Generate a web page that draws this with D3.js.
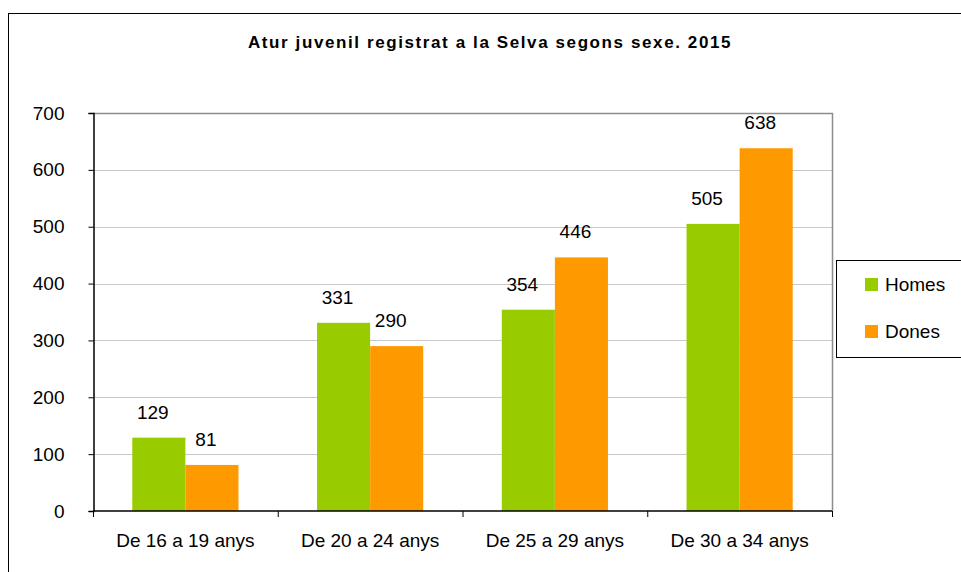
<!DOCTYPE html>
<html>
<head>
<meta charset="utf-8">
<script src="https://d3js.org/d3.v7.min.js"></script>
<style>
  body { margin: 0; background: #fff; }
  text { font-family: "Liberation Sans", Arial, sans-serif; fill: #000; }
</style>
</head>
<body>
<div id="chart"></div>
<script>
// data
var categories = ["De 16 a 19 anys", "De 20 a 24 anys", "De 25 a 29 anys", "De 30 a 34 anys"];
var homes = [129, 331, 354, 505];
var dones = [81, 290, 446, 638];
var seriesNames = ["Homes", "Dones"];
var yTicks = [0, 100, 200, 300, 400, 500, 600, 700];

var width = 961, height = 572;
var margin = {top: 113, left: 93, right: 129, bottom: 61};
var colors = ["#99cc00", "#ff9900"];

var svg = d3.select("#chart").append("svg")
    .attr("width", width)
    .attr("height", height);

// outer frame
svg.append("rect")
    .attr("x", 8.5).attr("y", 13.5)
    .attr("width", 970).attr("height", 580)
    .attr("fill", "none").attr("stroke", "#000").attr("stroke-width", 1);

var x0 = d3.scaleBand()
    .domain(categories)
    .range([margin.left, width - margin.right])
    .paddingInner(0).paddingOuter(0);

var x1 = d3.scaleBand()
    .domain(seriesNames)
    .range([0, x0.bandwidth()])
    .paddingInner(0).paddingOuter(0.74);

var y = d3.scaleLinear()
    .domain([0, 700])
    .range([height - margin.bottom, margin.top]);

// gridlines
svg.append("g")
    .selectAll("line")
    .data(yTicks.slice(1))
    .join("line")
    .attr("x1", margin.left).attr("x2", width - margin.right)
    .attr("y1", d => Math.round(y(d)) + 0.5).attr("y2", d => Math.round(y(d)) + 0.5)
    .attr("stroke", "#c8c8c8");

// plot border top/right
svg.append("path")
    .attr("d", "M" + margin.left + "," + (margin.top + 0.5) + "H" + (width - margin.right + 0.5) + "V" + (height - margin.bottom))
    .attr("fill", "none").attr("stroke", "#8c8c8c").attr("stroke-width", 1.5);

// bars
var groups = svg.append("g")
    .selectAll("g")
    .data(categories)
    .join("g")
    .attr("transform", d => "translate(" + x0(d) + ",0)");

groups.selectAll("rect")
    .data((d, i) => [{s: "Homes", v: homes[i], c: 0}, {s: "Dones", v: dones[i], c: 1}])
    .join("rect")
    .attr("x", d => x1(d.s))
    .attr("y", d => y(d.v))
    .attr("width", x1.bandwidth())
    .attr("height", d => y(0) - y(d.v))
    .attr("fill", d => colors[d.c]);

groups.selectAll("text.val")
    .data((d, i) => [{s: "Homes", v: homes[i]}, {s: "Dones", v: dones[i]}])
    .join("text")
    .attr("class", "val")
    .attr("x", d => x1(d.s) + x1.bandwidth() / 2 - 6)
    .attr("y", d => y(d.v) - 19)
    .attr("text-anchor", "middle")
    .style("font-size", "19px")
    .text(d => d.v);

// y axis
var yAxis = svg.append("g")
    .attr("transform", "translate(" + (margin.left + 0.5) + ",0)")
    .call(d3.axisLeft(y).tickValues(yTicks).tickSize(5).tickPadding(24));
yAxis.select(".domain").attr("stroke", "#000").attr("stroke-width", 1.5);
yAxis.selectAll(".tick line").attr("stroke", "#000");
yAxis.selectAll("text").style("font-size", "19px").attr("fill", "#000")
    .style("font-family", "'Liberation Sans', Arial, sans-serif");

// x axis
var xAxis = svg.append("g")
    .attr("transform", "translate(0," + (y(0)) + ")");
xAxis.append("line")
    .attr("x1", margin.left).attr("x2", width - margin.right)
    .attr("stroke", "#000").attr("stroke-width", 1.5);
xAxis.selectAll("line.tk")
    .data(d3.range(categories.length + 1))
    .join("line")
    .attr("class", "tk")
    .attr("x1", i => margin.left + i * x0.step() + 0.5)
    .attr("x2", i => margin.left + i * x0.step() + 0.5)
    .attr("y1", 0).attr("y2", 6)
    .attr("stroke", "#000");
xAxis.selectAll("text")
    .data(categories)
    .join("text")
    .attr("x", d => x0(d) + x0.bandwidth() / 2)
    .attr("y", 36)
    .attr("text-anchor", "middle")
    .style("font-size", "19px")
    .text(d => d);

// title
svg.append("text")
    .attr("x", 490).attr("y", 48)
    .attr("text-anchor", "middle")
    .style("font-size", "17px")
    .style("font-weight", "bold")
    .style("letter-spacing", "1.6px")
    .text("Atur juvenil registrat a la Selva segons sexe. 2015");

// legend
var legend = svg.append("g");
legend.append("rect")
    .attr("x", 836.5).attr("y", 260.5)
    .attr("width", 140).attr("height", 97)
    .attr("fill", "#fff").attr("stroke", "#000");
var li = legend.selectAll("g")
    .data(seriesNames)
    .join("g")
    .attr("transform", (d, i) => "translate(865," + (284 + i * 47) + ")");
li.append("rect")
    .attr("x", 0).attr("y", -6)
    .attr("width", 13).attr("height", 13)
    .attr("fill", (d, i) => colors[i]);
li.append("text")
    .attr("x", 20).attr("y", 7)
    .style("font-size", "19px")
    .text(d => d);
</script>
</body>
</html>
